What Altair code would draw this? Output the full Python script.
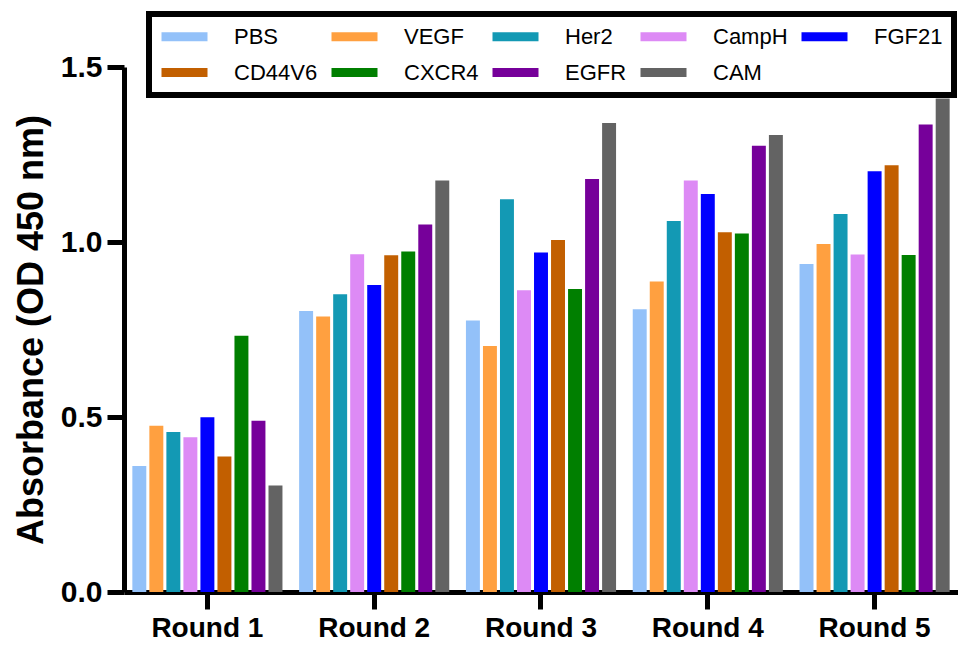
import altair as alt
import pandas as pd

rounds = ["Round 1", "Round 2", "Round 3", "Round 4", "Round 5"]
groups = ["PBS", "VEGF", "Her2", "CampH", "FGF21", "CD44V6", "CXCR4", "EGFR", "CAM"]
colors = ["#93C1F9", "#FFA040", "#1399B4", "#DD8AF5", "#0000FF",
          "#C25F00", "#007F00", "#76009A", "#636363"]

pbs = [0.360, 0.803, 0.776, 0.808, 0.937]
vegf = [0.475, 0.787, 0.703, 0.887, 0.994]
her2 = [0.457, 0.851, 1.122, 1.060, 1.080]
camph = [0.442, 0.965, 0.862, 1.176, 0.964]
fgf21 = [0.499, 0.877, 0.970, 1.137, 1.202]
cd44v6 = [0.387, 0.962, 1.006, 1.028, 1.219]
cxcr4 = [0.732, 0.973, 0.866, 1.024, 0.963]
egfr = [0.489, 1.050, 1.180, 1.275, 1.336]
cam = [0.304, 1.176, 1.340, 1.306, 1.410]

series = [pbs, vegf, her2, camph, fgf21, cd44v6, cxcr4, egfr, cam]
rows = []
for g, vals in zip(groups, series):
    for r, v in zip(rounds, vals):
        rows.append({"Round": r, "Group": g, "Absorbance": v})
df = pd.DataFrame(rows)

FONT = "Liberation Sans"

chart = alt.Chart(df).mark_bar().encode(
    x=alt.X("Round:N", sort=rounds,
            scale=alt.Scale(paddingInner=0.1, paddingOuter=0.05),
            axis=alt.Axis(title=None, labelAngle=0, labelFontSize=28,
                          labelPadding=5, tickSize=17)),
    xOffset=alt.XOffset("Group:N", sort=groups,
                        scale=alt.Scale(paddingInner=0.18)),
    y=alt.Y("Absorbance:Q",
            scale=alt.Scale(domain=[0, 1.5], nice=False),
            axis=alt.Axis(values=[0, 0.5, 1.0, 1.5], format=".1f",
                          title="Absorbance (OD 450 nm)", titleFontSize=36,
                          titlePadding=10, labelFontSize=30, labelPadding=5,
                          tickSize=17)),
    color=alt.Color("Group:N", sort=groups,
                    scale=alt.Scale(domain=groups, range=colors),
                    legend=alt.Legend(
                        title=None, orient="none", legendX=25, legendY=-53,
                        direction="horizontal", columns=5, gridAlign="each",
                        symbolType="M-2,-0.4L2,-0.4L2,0.4L-2,0.4Z",
                        symbolSize=529, symbolStrokeWidth=0, symbolOffset=13,
                        labelFont=FONT, labelFontSize=22, labelColor="black",
                        labelOffset=38, columnPadding=12, rowPadding=13,
                        padding=11, strokeColor="black")),
).properties(
    width=950, height=634,
    autosize=alt.AutoSizeParams(type="fit", contains="padding"),
    padding={"left": 5, "top": 44, "right": 0, "bottom": 0},
).configure_view(
    stroke=None
).configure_axis(
    grid=False, domainColor="black", domainWidth=5, tickColor="black",
    tickWidth=5, labelColor="black", labelFont=FONT, labelFontWeight="bold",
    titleFont=FONT, titleFontWeight="bold", titleColor="black"
).configure_legend(
    strokeWidth=6
)

chart.save("out.html", embed_options={"renderer": "svg", "actions": False})
